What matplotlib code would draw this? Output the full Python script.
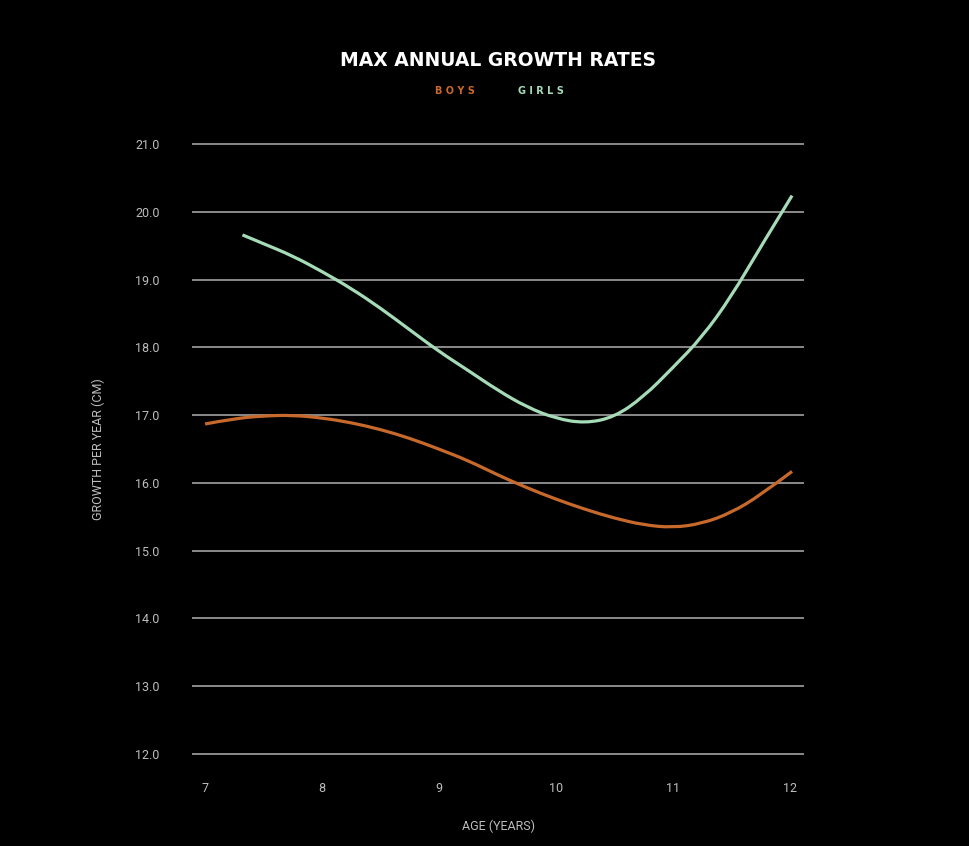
import matplotlib
matplotlib.use("Agg")
import matplotlib.pyplot as plt
from matplotlib.path import Path
from matplotlib.patches import PathPatch

# ── Datos ─────────────────────────────────────────────────────────────────
boys_age = [7.0, 7.25, 7.5, 7.75, 8.0, 8.25, 8.5, 8.75, 9.0, 9.25, 9.5,
            9.75, 10.0, 10.25, 10.5, 10.75, 11.0, 11.25, 11.5, 11.75, 12.02]
boys_rate = [16.87, 16.95, 16.99, 17.0, 16.96, 16.89, 16.79, 16.66, 16.50,
             16.33, 16.12, 15.93, 15.76, 15.61, 15.48, 15.38, 15.34, 15.40,
             15.56, 15.82, 16.17]

girls_age = [7.32, 7.5, 7.75, 8.0, 8.25, 8.5, 8.75, 9.0, 9.25, 9.5, 9.75,
             10.0, 10.25, 10.5, 10.75, 11.0, 11.25, 11.5, 11.75, 12.02]
girls_rate = [19.66, 19.53, 19.35, 19.12, 18.87, 18.58, 18.26, 17.94, 17.66,
              17.37, 17.12, 16.95, 16.88, 16.97, 17.27, 17.70, 18.15, 18.75,
              19.48, 20.24]

x_ticks = [7, 8, 9, 10, 11, 12]
y_ticks = [12.0, 13.0, 14.0, 15.0, 16.0, 17.0, 18.0, 19.0, 20.0, 21.0]

# ── Estilo ────────────────────────────────────────────────────────────────
BG = "#000000"
BOYS_C = "#c8692c"
GIRLS_C = "#a6dbb8"
GRID_C = "#8a8a8a"
TEXT_C = "#bdbdbd"
plt.rcParams["font.family"] = ["Roboto", "DejaVu Sans"]


def smooth_path(xs, ys):
    # curva cuadrática: cada punto interior hace de control, pasa por los puntos medios
    pts = list(zip(xs, ys))
    verts = [pts[0]]
    codes = [Path.MOVETO]
    for i in range(1, len(pts) - 1):
        nxt = pts[i + 1] if i == len(pts) - 2 else (
            (pts[i][0] + pts[i + 1][0]) / 2, (pts[i][1] + pts[i + 1][1]) / 2)
        verts += [pts[i], nxt]
        codes += [Path.CURVE3, Path.CURVE3]
    return Path(verts, codes)


fig = plt.figure(figsize=(9.7, 8.46), dpi=100, facecolor=BG)
ax = fig.add_axes([0.199, 0.1087, 0.629, 0.7210], facecolor=BG)

for xs, ys, c in [(boys_age, boys_rate, BOYS_C), (girls_age, girls_rate, GIRLS_C)]:
    ax.add_patch(PathPatch(smooth_path(xs, ys), facecolor="none", edgecolor=c,
                           lw=2.3, capstyle="butt", zorder=3))

ax.set_xlim(6.897, 12.115)
ax.set_ylim(12.0, 21.0)
ax.set_xticks(x_ticks)
ax.set_xticklabels([str(t) for t in x_ticks])
ax.set_yticks(y_ticks)
ax.set_yticklabels([f"{t:.1f}" for t in y_ticks])

ax.grid(axis="y", color=GRID_C, lw=1.4, zorder=1)
ax.grid(axis="x", visible=False)
for s in ax.spines.values():
    s.set_visible(False)
ax.tick_params(length=0, colors=TEXT_C, labelsize=9)
ax.tick_params(axis="y", pad=24)
ax.tick_params(axis="x", pad=20)
for ln in ax.get_ygridlines():
    ln.set_clip_on(False)

ax.set_xlabel("AGE (YEARS)", color=TEXT_C, fontsize=9, labelpad=18)
ax.set_ylabel("GROWTH PER YEAR (CM)", color=TEXT_C, fontsize=9)
ax.yaxis.set_label_coords(-0.145, 0.5)

fig.text(0.513, 0.929, "MAX ANNUAL GROWTH RATES", color="white", fontsize=13.5,
         fontweight="bold", ha="center", va="center", family=["DejaVu Sans"])
fig.text(0.469, 0.892, "B O Y S", color=BOYS_C, fontsize=7, fontweight="bold",
         ha="center", va="center", family=["DejaVu Sans"])
fig.text(0.558, 0.892, "G I R L S", color=GIRLS_C, fontsize=7, fontweight="bold",
         ha="center", va="center", family=["DejaVu Sans"])

fig.savefig("out.png", dpi=100, facecolor=BG)
